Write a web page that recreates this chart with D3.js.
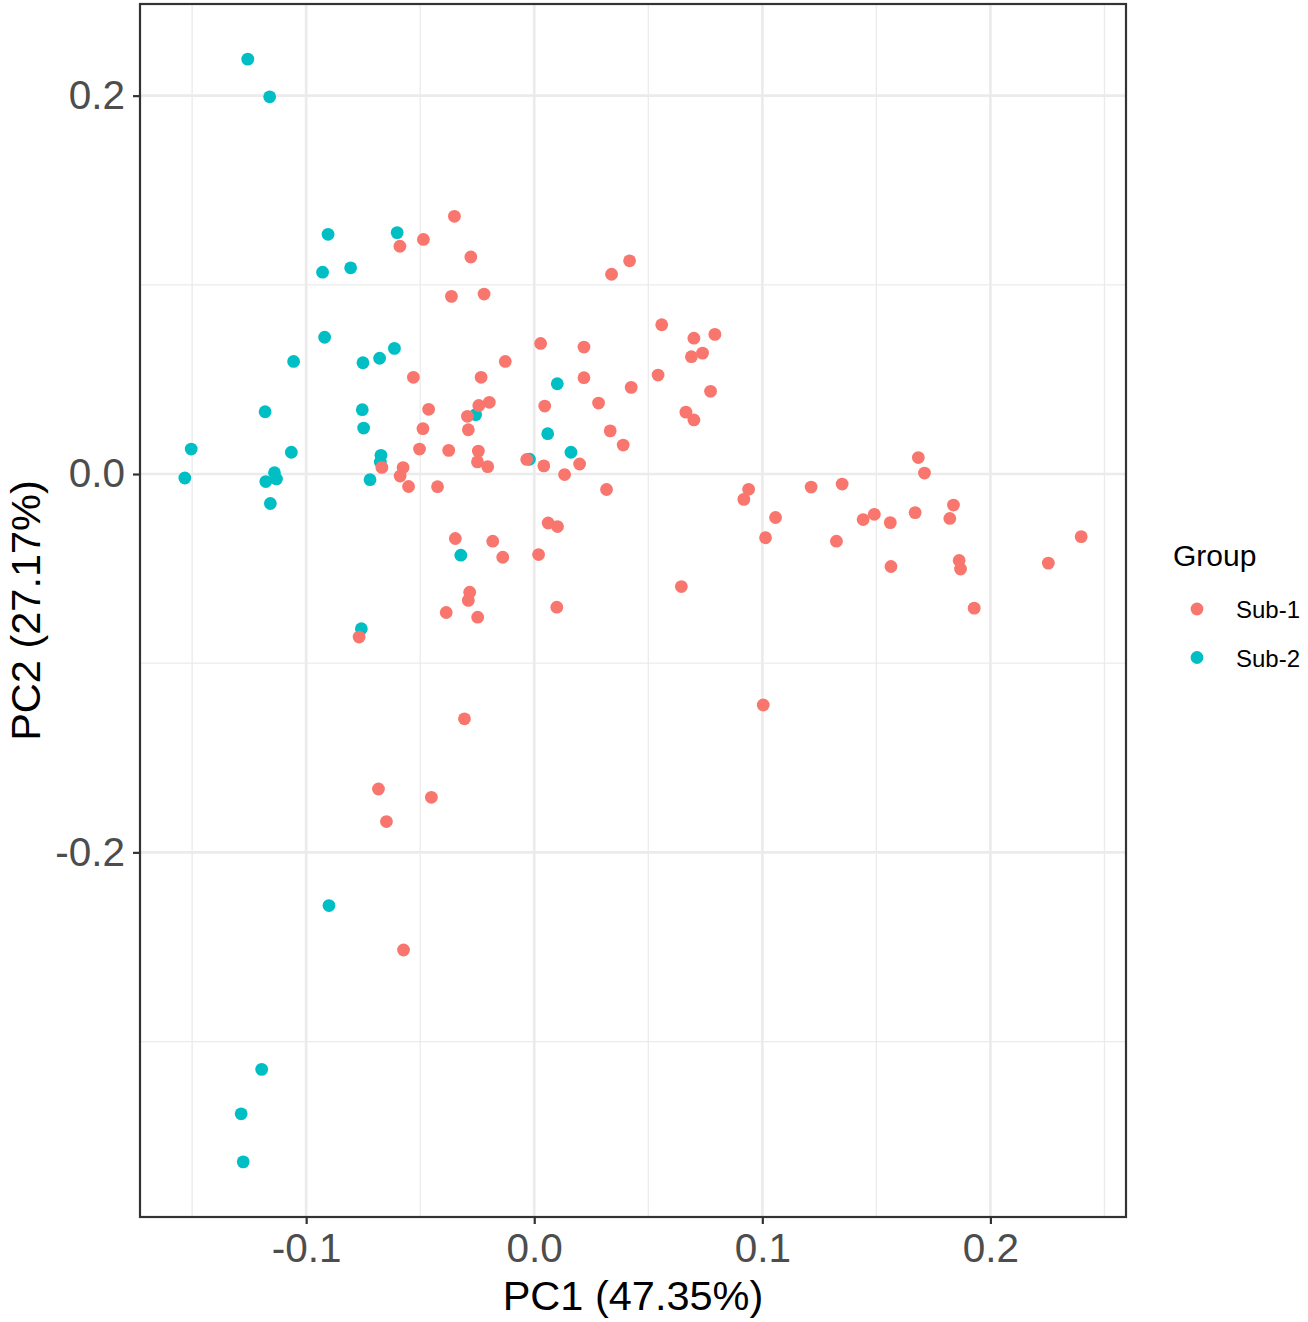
<!DOCTYPE html>
<html>
<head>
<meta charset="utf-8">
<script src="https://cdn.jsdelivr.net/npm/d3@7"></script>
<style>
  body { margin: 0; background: #fff; }
  svg { display: block; font-family: "Liberation Sans", Arial, sans-serif; }
</style>
</head>
<body>
<svg class="chart" width="1308" height="1322"></svg>
<script>
// PCA scores
var groups = ["Sub-1", "Sub-2"];
var groupColours = ["#F8766D", "#00BFC4"];

var sub1PC1 = [-0.0350, -0.0589, -0.0486, -0.0278, -0.0363, -0.0220, 0.0339, 0.0418, 0.0559, 0.0700,
  0.0792, 0.0689, 0.0738, 0.0028, 0.0218, -0.0127, -0.0530, -0.0233, 0.0218, 0.0543,
  0.0425, 0.0773, -0.0463, 0.0046, 0.0282, -0.0293, -0.0243, -0.0197, -0.0289, -0.0488,
  0.0333, 0.0390, 0.0665, 0.0700, -0.0503, -0.0375, -0.0245, -0.0249, -0.0204, -0.0033,
  0.0042, 0.0199, 0.0133, 0.0317, -0.0575, -0.0588, -0.0551, -0.0424, -0.0668, 0.1684,
  0.1711, 0.0940, 0.0919, 0.1214, 0.1350, 0.1058, 0.1014, 0.1325, 0.1442, 0.1491,
  0.1561, 0.1670, 0.1838, 0.1822, 0.1564, 0.1863, 0.1869, 0.1929, 0.2254, 0.2398,
  0.0061, 0.0102, -0.0138, 0.0019, 0.0645, 0.0099, 0.1004, -0.0346, -0.0182, -0.0283,
  -0.0289, -0.0386, -0.0248, -0.0768, -0.0306, -0.0683, -0.0451, -0.0648, -0.0573];
var sub1PC2 = [0.1362, 0.1204, 0.1240, 0.1147, 0.0939, 0.0951, 0.1056, 0.1127, 0.0789, 0.0718,
  0.0738, 0.0620, 0.0639, 0.0690, 0.0671, 0.0595, 0.0511, 0.0511, 0.0509, 0.0523,
  0.0458, 0.0437, 0.0342, 0.0359, 0.0375, 0.0305, 0.0362, 0.0379, 0.0234, 0.0240,
  0.0228, 0.0153, 0.0327, 0.0286, 0.0132, 0.0125, 0.0121, 0.0064, 0.0039, 0.0077,
  0.0043, 0.0053, -0.0003, -0.0082, 0.0034, -0.0011, -0.0066, -0.0067, 0.0035, 0.0087,
  0.0005, -0.0081, -0.0134, -0.0069, -0.0053, -0.0230, -0.0337, -0.0355, -0.0241, -0.0213,
  -0.0257, -0.0204, -0.0164, -0.0235, -0.0489, -0.0457, -0.0502, -0.0709, -0.0471, -0.0331,
  -0.0259, -0.0278, -0.0440, -0.0426, -0.0595, -0.0704, -0.1221, -0.0341, -0.0355, -0.0625,
  -0.0668, -0.0732, -0.0757, -0.0862, -0.1294, -0.1665, -0.1709, -0.1837, -0.2516];

var sub2PC1 = [-0.1256, -0.1160, -0.0904, -0.0601, -0.0928, -0.0805, -0.0919, -0.1055, -0.0751, -0.0678,
  -0.0613, -0.1180, -0.0754, -0.0748, -0.1504, -0.1065, -0.0672, -0.1532, -0.1139, -0.1130,
  -0.1177, -0.0720, -0.1157, -0.0257, 0.0101, 0.0059, 0.0161, -0.0322, -0.0758, -0.0900,
  -0.1195, -0.1285, -0.1276, -0.0021, -0.0675];
var sub2PC2 = [0.2193, 0.1994, 0.1267, 0.1276, 0.1067, 0.1090, 0.0723, 0.0595, 0.0588, 0.0612,
  0.0664, 0.0329, 0.0340, 0.0243, 0.0132, 0.0115, 0.0099, -0.0021, 0.0007, -0.0026,
  -0.0040, -0.0030, -0.0156, 0.0314, 0.0477, 0.0213, 0.0115, -0.0429, -0.0818, -0.2281,
  -0.3147, -0.3382, -0.3636, 0.0078, 0.0063];

var xTicks = [-0.1, 0.0, 0.1, 0.2];
var xMinor = [-0.15, -0.05, 0.05, 0.15, 0.25];
var yTicks = [-0.2, 0.0, 0.2];
var yMinor = [-0.3, -0.1, 0.1];
var xTitle = "PC1 (47.35%)";
var yTitle = "PC2 (27.17%)";
var legendTitle = "Group";

// build point table, Sub-2 drawn first so Sub-1 sits on top
var points = [];
sub2PC1.forEach(function(v, i) { points.push({pc1: v, pc2: sub2PC2[i], group: "Sub-2"}); });
sub1PC1.forEach(function(v, i) { points.push({pc1: v, pc2: sub1PC2[i], group: "Sub-1"}); });

var svg = d3.select("svg.chart");
var panel = {left: 140, right: 1126, top: 4, bottom: 1217};

// ggplot style 5% expansion
var expand = function(ext) {
  var pad = (ext[1] - ext[0]) * 0.05;
  return [ext[0] - pad, ext[1] + pad];
};

var x = d3.scaleLinear()
  .domain(expand(d3.extent(points, function(d) { return d.pc1; })))
  .range([panel.left, panel.right]);
var y = d3.scaleLinear()
  .domain(expand(d3.extent(points, function(d) { return d.pc2; })))
  .range([panel.bottom, panel.top]);
var colour = d3.scaleOrdinal().domain(groups).range(groupColours);

var g = svg.append("g");

//Grid
g.selectAll("line.xminor").data(xMinor.filter(function(v) { return x(v) < panel.right; }))
  .enter().append("line")
  .attr("x1", function(d) { return x(d); }).attr("x2", function(d) { return x(d); })
  .attr("y1", panel.top).attr("y2", panel.bottom)
  .attr("stroke", "#EBEBEB").attr("stroke-width", 1.3);
g.selectAll("line.yminor").data(yMinor)
  .enter().append("line")
  .attr("y1", function(d) { return y(d); }).attr("y2", function(d) { return y(d); })
  .attr("x1", panel.left).attr("x2", panel.right)
  .attr("stroke", "#EBEBEB").attr("stroke-width", 1.3);
g.selectAll("line.xmajor").data(xTicks)
  .enter().append("line")
  .attr("x1", function(d) { return x(d); }).attr("x2", function(d) { return x(d); })
  .attr("y1", panel.top).attr("y2", panel.bottom)
  .attr("stroke", "#EBEBEB").attr("stroke-width", 2.7);
g.selectAll("line.ymajor").data(yTicks)
  .enter().append("line")
  .attr("y1", function(d) { return y(d); }).attr("y2", function(d) { return y(d); })
  .attr("x1", panel.left).attr("x2", panel.right)
  .attr("stroke", "#EBEBEB").attr("stroke-width", 2.7);

//Points
g.selectAll("circle.pt").data(points)
  .enter().append("circle")
  .attr("cx", function(d) { return x(d.pc1); })
  .attr("cy", function(d) { return y(d.pc2); })
  .attr("r", 6.4)
  .attr("fill", function(d) { return colour(d.group); });

//Panel border
g.append("rect")
  .attr("x", panel.left).attr("y", panel.top)
  .attr("width", panel.right - panel.left).attr("height", panel.bottom - panel.top)
  .attr("fill", "none").attr("stroke", "#333333").attr("stroke-width", 2.2);

//Axes
var xAxis = svg.append("g")
  .attr("transform", "translate(0," + panel.bottom + ")")
  .call(d3.axisBottom(x).tickValues(xTicks).tickFormat(d3.format(".1f")).tickSizeOuter(0).tickSize(7).tickPadding(9));
var yAxis = svg.append("g")
  .attr("transform", "translate(" + panel.left + ",0)")
  .call(d3.axisLeft(y).tickValues(yTicks).tickFormat(d3.format(".1f")).tickSizeOuter(0).tickSize(7).tickPadding(8));
[xAxis, yAxis].forEach(function(a) {
  a.select(".domain").remove();
  a.selectAll(".tick line").attr("stroke", "#333333").attr("stroke-width", 2.2);
  a.selectAll(".tick text")
    .attr("fill", "#4D4D4D")
    .style("font-size", "40.5px")
    .style("font-family", "'Liberation Sans', Arial, sans-serif");
});
// d3 uses a unicode minus, ggplot an ascii hyphen
svg.selectAll(".tick text").text(function(d) { return d3.format(".1f")(d).replace("\u2212", "-"); });

//Titles
svg.append("text")
  .attr("x", (panel.left + panel.right) / 2).attr("y", 1310)
  .attr("text-anchor", "middle")
  .style("font-size", "41.5px")
  .text(xTitle);
svg.append("text")
  .attr("transform", "translate(40," + (panel.top + panel.bottom) / 2 + ") rotate(-90)")
  .attr("text-anchor", "middle")
  .style("font-size", "41.5px")
  .text(yTitle);

//Legend
var legend = svg.append("g").attr("transform", "translate(1173,0)");
legend.append("text").attr("x", 0).attr("y", 566)
  .style("font-size", "30px").text(legendTitle);
var keys = legend.selectAll("g.key").data(groups).enter().append("g")
  .attr("transform", function(d, i) { return "translate(0," + (609 + i * 48.5) + ")"; });
keys.append("circle").attr("cx", 24).attr("cy", 0).attr("r", 6.4)
  .attr("fill", function(d) { return colour(d); });
keys.append("text").attr("x", 63).attr("y", 9)
  .style("font-size", "24px").text(function(d) { return d; });
</script>
</body>
</html>
